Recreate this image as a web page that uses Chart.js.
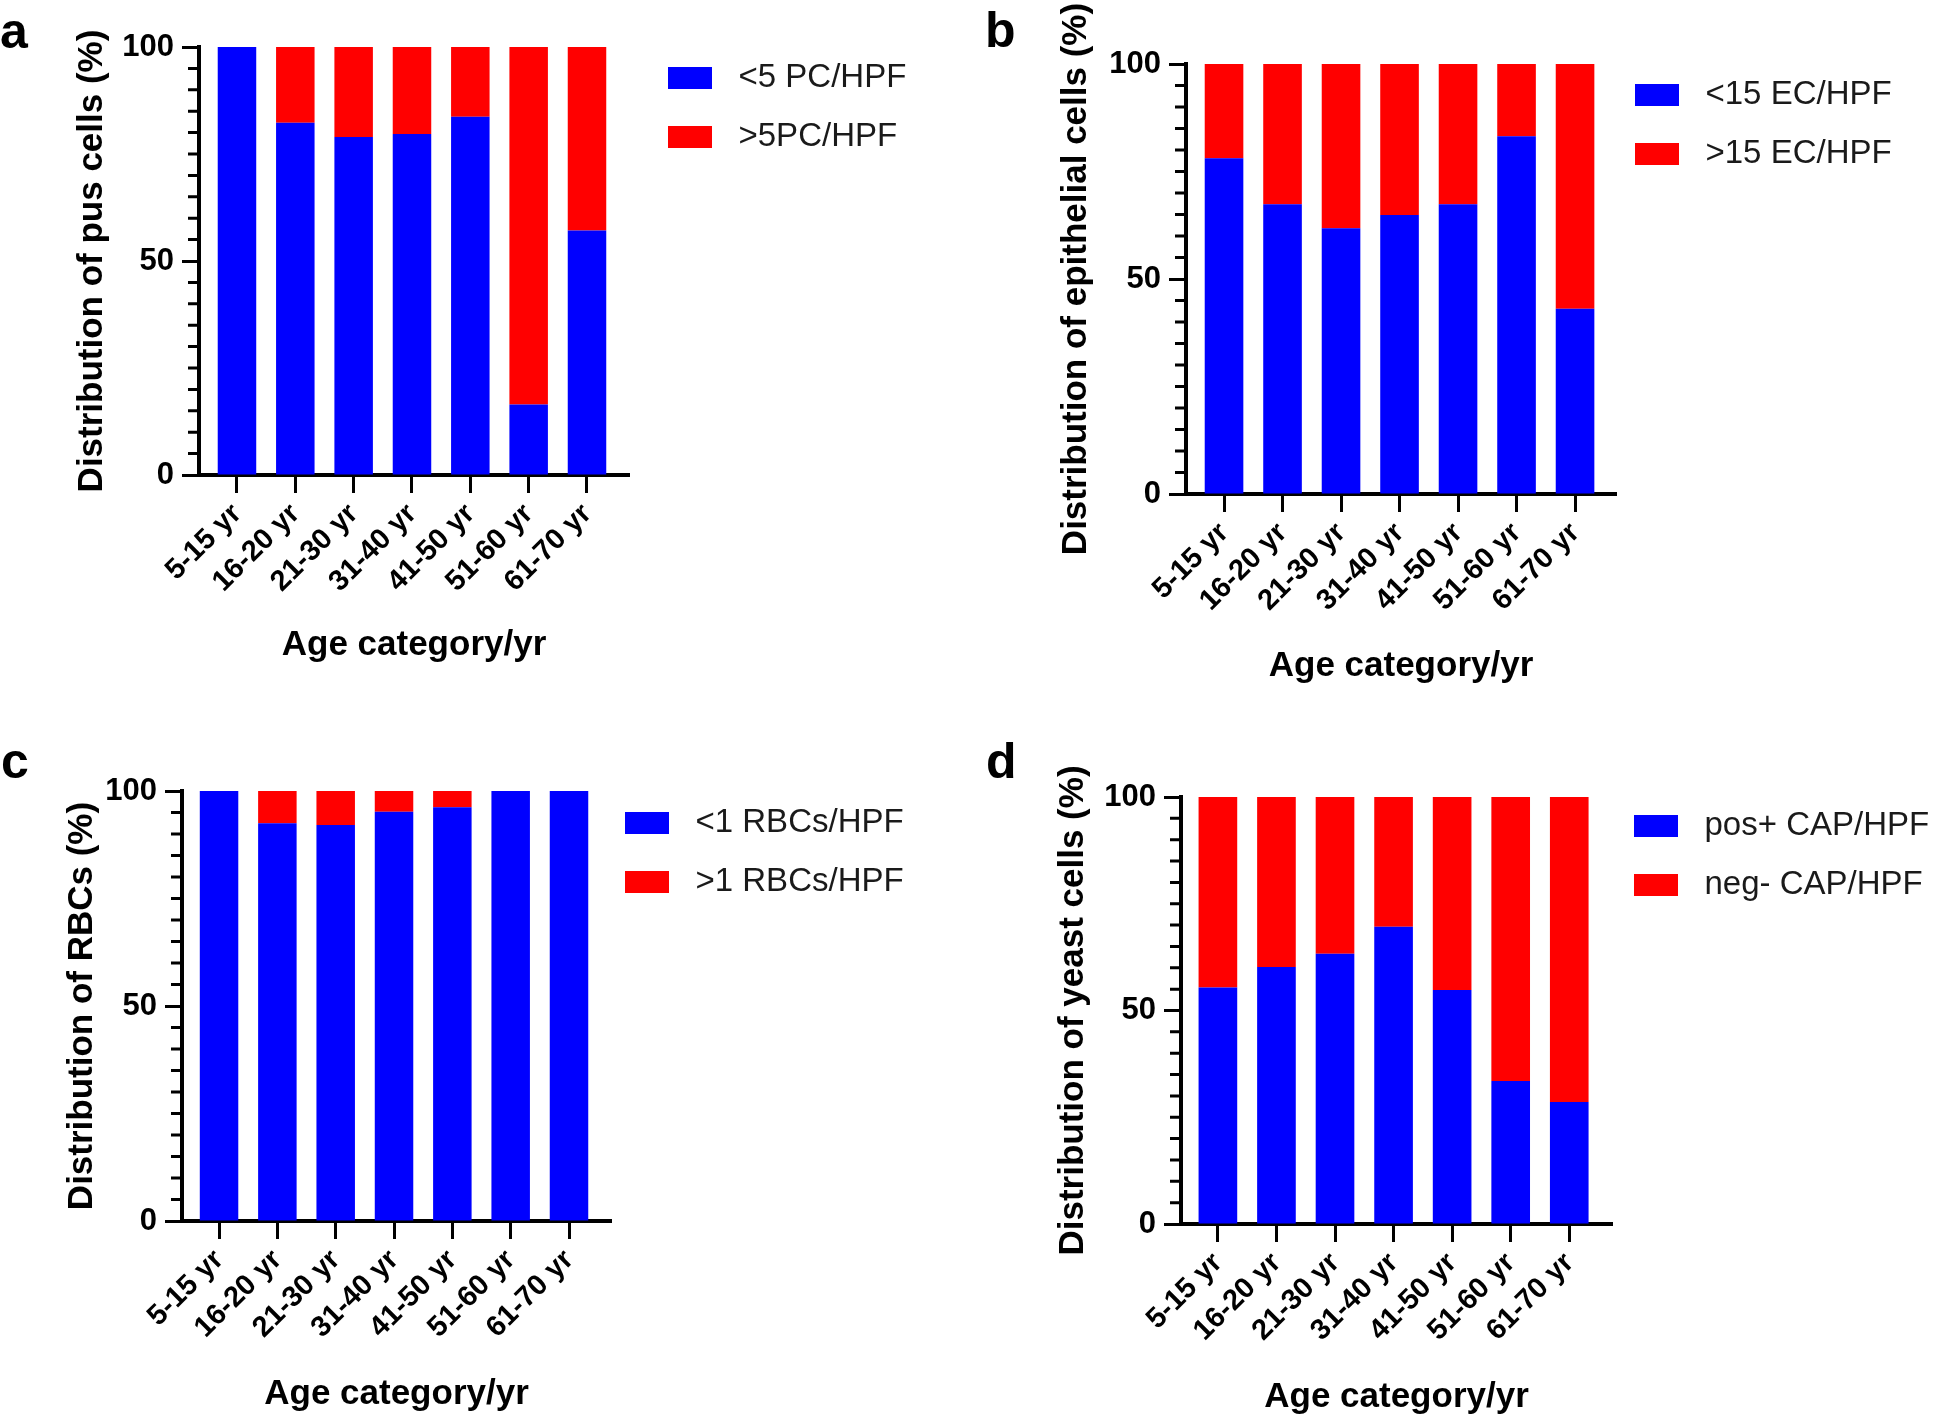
<!DOCTYPE html>
<html>
<head>
<meta charset="utf-8">
<title>Distribution by age category</title>
<script src="https://cdn.jsdelivr.net/npm/chart.js"></script>
<style>
    html, body { margin: 0; padding: 0; background: #fff; overflow: hidden; }
    body { width: 1944px; height: 1415px; position: relative; font-family: Arial, "Liberation Sans", sans-serif; }
    canvas { position: absolute; }
    .tag { position: absolute; font-weight: bold; font-size: 50px; line-height: 50px; color: #000; }
</style>
</head>
<body>
<div class="tag" style="left:0px;top:6px">a</div>
<div class="tag" style="left:985px;top:5px">b</div>
<div class="tag" style="left:1px;top:736px">c</div>
<div class="tag" style="left:986px;top:736px">d</div>
<canvas id="chartA"></canvas>
<canvas id="chartB"></canvas>
<canvas id="chartC"></canvas>
<canvas id="chartD"></canvas>
<script>
// Age groups shared by all four panels
const ageGroups = ["5-15 yr", "16-20 yr", "21-30 yr", "31-40 yr", "41-50 yr", "51-60 yr", "61-70 yr"];
const yTicks = [0, 50, 100];
const minorStep = 5;

// a - pus cells (%)
const pusLow = [100, 82.3, 79.0, 79.7, 83.7, 16.5, 57.1];
const pusHigh = [0, 17.7, 21.0, 20.3, 16.3, 83.5, 42.9];

// b - epithelial cells (%)
const epiLow = [78.1, 67.4, 61.8, 64.9, 67.4, 83.2, 43.1];
const epiHigh = [21.9, 32.6, 38.2, 35.1, 32.6, 16.8, 56.9];

// c - RBCs (%)
const rbcLow = [100, 92.5, 92.1, 95.2, 96.2, 100, 100];
const rbcHigh = [0, 7.5, 7.9, 4.8, 3.8, 0, 0];

// d - yeast cells (%)
const yeastPos = [55.4, 60.2, 63.3, 69.6, 54.8, 33.5, 28.6];
const yeastNeg = [44.6, 39.8, 36.7, 30.4, 45.2, 66.5, 71.4];

const BLUE = '#0000ff';
const RED = '#ff0000';

// box = [left, top, width, height] of each canvas; padR leaves room for the legend text
const panels = [
    { id: 'chartA', yTitle: 'Distribution of pus cells (%)', names: ['<5 PC/HPF', '>5PC/HPF'], low: pusLow, high: pusHigh,
      box: [71, -23, 868, 686], padR: 280, yAxisW: 128, xAxisH: 188, xRange: [-0.651, 6.72], shift: { x: 3, y: -12 } },
    { id: 'chartB', yTitle: 'Distribution of epithelial cells (%)', names: ['<15 EC/HPF', '>15 EC/HPF'], low: epiLow, high: epiHigh,
      box: [1055, -6, 889, 690], padR: 298, yAxisW: 131, xAxisH: 190, xRange: [-0.65, 6.70], shift: { x: -17, y: -12 } },
    { id: 'chartC', yTitle: 'Distribution of RBCs (%)', names: ['<1 RBCs/HPF', '>1 RBCs/HPF'], low: rbcLow, high: rbcHigh,
      box: [61, 721, 860, 691], padR: 280, yAxisW: 121, xAxisH: 191, xRange: [-0.635, 6.72], shift: { x: -22, y: -11 } },
    { id: 'chartD', yTitle: 'Distribution of yeast cells (%)', names: ['pos+ CAP/HPF', 'neg- CAP/HPF'], low: yeastPos, high: yeastNeg,
      box: [1052, 727, 892, 688], padR: 302, yAxisW: 129, xAxisH: 191, xRange: [-0.63, 6.73], shift: { x: -14, y: -14 } }
];

// small filled rectangles used as legend markers
function swatch(color) {
    const c = document.createElement('canvas');
    c.width = 44;
    c.height = 22;
    const g = c.getContext('2d');
    g.fillStyle = color;
    g.fillRect(0, 0, 44, 22);
    return c;
}

// legend takes a thin slot in the layout, then gets moved and widened
const legendShift = {
    id: 'legendShift',
    afterLayout(chart, args, opts) {
        const lg = chart.legend;
        lg.left += opts.x;
        lg.top += opts.y;
        lg.right = chart.width;
        lg.bottom = chart.height;
        lg.width = lg.right - lg.left;
        lg.height = lg.bottom - lg.top;
    }
};

// short unlabeled ticks between 0, 50 and 100
const minorTicks = {
    id: 'minorTicks',
    afterDraw(chart) {
        const y = chart.scales.y;
        const ctx = chart.ctx;
        ctx.save();
        ctx.strokeStyle = '#000';
        ctx.lineWidth = 3;
        ctx.beginPath();
        for (let v = y.min + minorStep; v < y.max; v += minorStep) {
            if (yTicks.includes(v)) continue;
            const py = y.getPixelForValue(v);
            ctx.moveTo(y.right - 11, py);
            ctx.lineTo(y.right, py);
        }
        ctx.stroke();
        ctx.restore();
    }
};

Chart.defaults.font.family = 'Arial, "Liberation Sans", sans-serif';
Chart.defaults.color = '#000';

panels.forEach(p => {
    const canvas = document.getElementById(p.id);
    canvas.width = p.box[2];
    canvas.height = p.box[3];
    canvas.style.left = p.box[0] + 'px';
    canvas.style.top = p.box[1] + 'px';

    new Chart(canvas, {
        type: 'bar',
        data: {
            datasets: [
                { label: p.names[0], data: p.low.map((v, i) => ({ x: i, y: v })), backgroundColor: BLUE },
                { label: p.names[1], data: p.high.map((v, i) => ({ x: i, y: v })), backgroundColor: RED }
            ]
        },
        options: {
            responsive: false,
            animation: false,
            devicePixelRatio: 1,
            events: [],
            barPercentage: 0.66,
            categoryPercentage: 1,
            layout: { padding: { top: 70, right: p.padR, bottom: 0, left: 0 } },
            scales: {
                x: {
                    type: 'linear',
                    stacked: true,
                    offset: false,
                    min: p.xRange[0],
                    max: p.xRange[1],
                    afterBuildTicks: axis => { axis.ticks = ageGroups.map((g, i) => ({ value: i })); },
                    afterFit: axis => { axis.height = p.xAxisH; },
                    ticks: {
                        autoSkip: false,
                        minRotation: 45,
                        maxRotation: 45,
                        padding: 4,
                        font: { size: 29, weight: 'bold' },
                        callback: v => ageGroups[v]
                    },
                    grid: { offset: false, drawOnChartArea: false, tickLength: 18, tickWidth: 3, tickColor: '#000' },
                    border: { color: '#000', width: 4 },
                    title: { display: true, text: 'Age category/yr', padding: 0, font: { size: 35, weight: 'bold', lineHeight: 1 } }
                },
                y: {
                    stacked: true,
                    min: 0,
                    max: 100,
                    afterBuildTicks: axis => { axis.ticks = yTicks.map(v => ({ value: v })); },
                    afterFit: axis => { axis.width = p.yAxisW; },
                    ticks: {
                        padding: 8,
                        font: { size: 31, weight: 'bold', lineHeight: 1 }
                    },
                    grid: { drawOnChartArea: false, tickLength: 17, tickWidth: 3, tickColor: '#000' },
                    border: { color: '#000', width: 4 },
                    title: { display: true, text: p.yTitle, padding: 0, font: { size: 35, weight: 'bold', lineHeight: 1.2 } }
                }
            },
            plugins: {
                tooltip: { enabled: false },
                legendShift: p.shift,
                legend: {
                    position: 'right',
                    align: 'start',
                    maxWidth: 30,
                    labels: {
                        usePointStyle: true,
                        pointStyleWidth: 64,
                        padding: 26,
                        color: '#1a1a1a',
                        font: { size: 33 },
                        generateLabels: chart => Chart.defaults.plugins.legend.labels.generateLabels(chart)
                            .map(item => ({ ...item, pointStyle: swatch(item.fillStyle) }))
                    }
                }
            }
        },
        plugins: [legendShift, minorTicks]
    });
});
</script>
</body>
</html>
